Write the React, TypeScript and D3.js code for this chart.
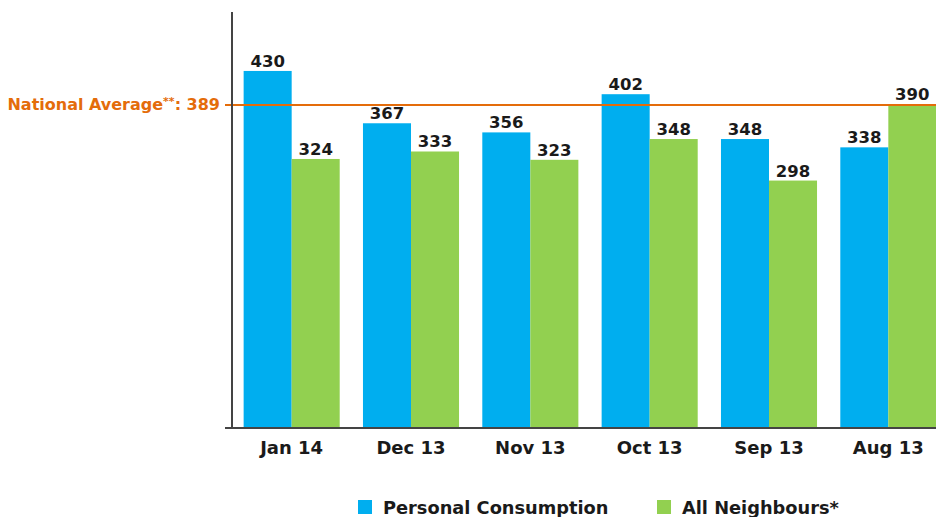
import React from 'react'
import * as d3 from 'd3'

const categories = ['Jan 14', 'Dec 13', 'Nov 13', 'Oct 13', 'Sep 13', 'Aug 13']
const personal = [430, 367, 356, 402, 348, 338]
const neighbours = [324, 333, 323, 348, 298, 390]
const seriesNames = ['Personal Consumption', 'All Neighbours*']
const seriesColors = ['#00aeef', '#92d050']
const nationalAverage = 389

const W = 936
const H = 517
const font = 'DejaVu Sans, Verdana, sans-serif'

export default function App() {
  const x0 = d3.scaleBand<string>()
    .domain(categories)
    .range([232, 948])
    .paddingInner(0.195)
    .paddingOuter(0.0975)

  const x1 = d3.scaleBand<number>()
    .domain([0, 1])
    .range([0, x0.bandwidth()])

  const y = d3.scaleLinear()
    .domain([0, 501])
    .range([428, 12])

  const rows = categories.map((c, i) => ({ c, vals: [personal[i], neighbours[i]] }))

  return (
    <svg width={W} height={H} style={{ position: 'absolute', left: 0, top: 0, background: '#fff' }}
      fontFamily={font} fontWeight="bold">
      {rows.map(r => (
        <g key={r.c} transform={`translate(${x0(r.c)},0)`}>
          {r.vals.map((v, j) => (
            <g key={j}>
              <rect x={x1(j)} y={y(v)} width={x1.bandwidth()} height={y(0) - y(v)} fill={seriesColors[j]} />
              <text x={(x1(j) as number) + x1.bandwidth() / 2} y={y(v) - 4} textAnchor="middle"
                fontSize={16.5} fill="#1a1a1a">{v}</text>
            </g>
          ))}
          <text x={x0.bandwidth() / 2} y={454} textAnchor="middle" fontSize={18} fill="#1a1a1a">{r.c}</text>
        </g>
      ))}

      {/* national average line */}
      <line x1={225} x2={W} y1={y(nationalAverage)} y2={y(nationalAverage)} stroke="#e46c0a" strokeWidth={2} />
      <text x={220} y={y(nationalAverage) + 5} textAnchor="end" fontSize={16} fill="#e46c0a">
        National Average<tspan fontSize={11} dy={-5}>**</tspan><tspan dy={5}>: {nationalAverage}</tspan>
      </text>

      {/* axes */}
      <line x1={232} x2={232} y1={12} y2={y(0)} stroke="#444" strokeWidth={2} />
      <line x1={225} x2={W} y1={y(0)} y2={y(0)} stroke="#444" strokeWidth={2} />

      {/* legend */}
      {seriesNames.map((s, i) => {
        const lx = [358, 657][i]
        return (
          <g key={s}>
            <rect x={lx} y={500} width={14} height={14} fill={seriesColors[i]} />
            <text x={lx + 25} y={514} fontSize={17.8} fill="#1a1a1a">{s}</text>
          </g>
        )
      })}
    </svg>
  )
}
